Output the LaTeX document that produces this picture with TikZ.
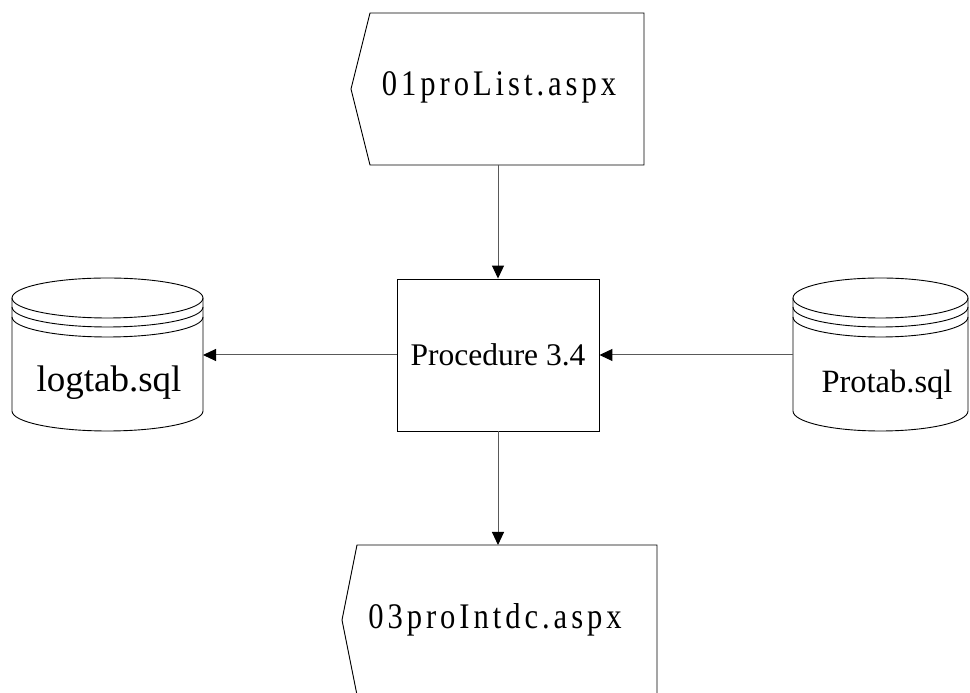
\documentclass[tikz,border=0pt]{standalone}
\usepackage{fontspec}
\setmainfont{Liberation Serif}
\newfontfamily\aspxfont[FakeStretch=0.85, LetterSpace=11]{Liberation Serif}
\usetikzlibrary{positioning,calc,arrows.meta}

\tikzset{
  flow/.style={draw=black!65, line width=1pt, -{Triangle[length=13pt,width=12pt,color=black]}},
  outline/.style={draw, line width=0.9pt},
  area/.style={inner sep=0pt, outer sep=0pt, draw=none},
  sqltxt/.style={font=\fontsize{#1}{36}\selectfont},
  aspxtxt/.style={font=\aspxfont\fontsize{36}{40}\selectfont},
}

% data store outline: left x, right x
\newcommand{\dbstore}[2]{%
  \draw[outline] ({(#1+#2)/2},395) ellipse [x radius={(#2-#1)/2}, y radius=20];
  \draw[outline] (#1,386) arc [start angle=180, end angle=360, x radius={(#2-#1)/2}, y radius=20];
  \draw[outline] (#1,376) arc [start angle=180, end angle=360, x radius={(#2-#1)/2}, y radius=20];
  \draw[outline] (#1,395) -- (#1,282) arc [start angle=180, end angle=360, x radius={(#2-#1)/2}, y radius=20] -- (#2,395);
}

\begin{document}
\begin{tikzpicture}[x=1pt, y=1pt]
    \useasboundingbox (0,0) rectangle (970,693);
    \clip (0,0) rectangle (970,693);

    % Pages
    \node [area, minimum width=274pt, minimum height=152pt] (prolist) at (507,604) {};
    \draw [outline] (prolist.north west) -- (prolist.north east) -- (prolist.south east)
        -- (prolist.south west) -- ([xshift=-19pt]prolist.west) -- cycle;
    \node [aspxtxt] (prolisttxt) at (499,606) {01proList.aspx};

    \node [area, minimum width=300pt, minimum height=150pt] (prointdc) at (507,73) {};
    \draw [outline] (prointdc.south east) -- (prointdc.north east) -- (prointdc.north west)
        -- ([xshift=-15pt]prointdc.west) -- (prointdc.south west);
    \node [aspxtxt] (prointdctxt) at (495,73) {03proIntdc.aspx};

    % Procedure
    \node [outline, minimum width=202pt, minimum height=152pt, sqltxt=31.5] (proc) at (498,338) {Procedure 3.4};

    % Data stores
    \dbstore{12}{203}
    \node [area, minimum width=191pt, minimum height=153pt] (logtab) at (107.5,338.5) {};
    \node [sqltxt=37] (logtabtxt) at (109,310) {logtab.sql};

    \dbstore{793}{968}
    \node [area, minimum width=175pt, minimum height=153pt] (protab) at (880.5,338.5) {};
    \node [sqltxt=32.5] (protabtxt) at (887,308) {Protab.sql};

    % Flows
    \draw [flow] (prolist.south -| proc.north) -- (proc.north);
    \draw [flow] (proc.south) -- (proc.south |- prointdc.north);
    \draw [flow] (proc.west) -- (proc.west -| logtab.east);
    \draw [flow] (proc.east -| protab.west) -- (proc.east);
\end{tikzpicture}
\end{document}
